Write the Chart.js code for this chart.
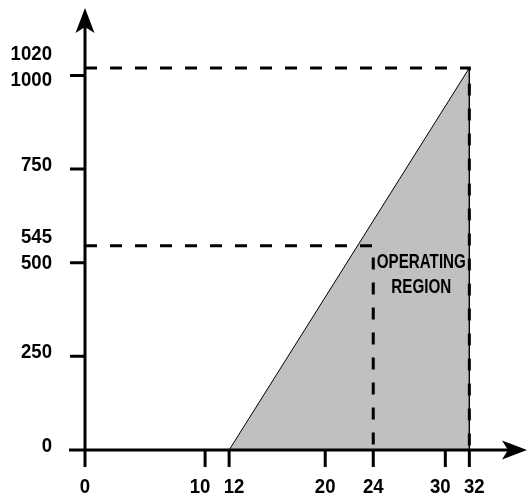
<!DOCTYPE html>
<html>
<head>
<meta charset="utf-8">
<title>Operating region</title>
<script src="https://cdn.jsdelivr.net/npm/chart.js@4.4.0/dist/chart.umd.min.js"></script>
<style>
  html, body { margin: 0; padding: 0; background: #fff; }
  canvas { display: block; }
</style>
</head>
<body>
<canvas id="myChart" width="529" height="497"></canvas>
<script>
// values
const xTicks = [0, 10, 12, 20, 24, 30, 32];
const yTicks = [0, 250, 500, 545, 750, 1000, 1020];

const regionX = [12, 32, 32];      // shaded operating region
const regionY = [0, 1020, 0];
const limitX = [0, 32, 32];        // dashed 1020 limit
const limitY = [1020, 1020, 0];
const ratedX = [0, 24, 24];        // dashed 545 point
const ratedY = [545, 545, 0];

const regionText = ['OPERATING', 'REGION'];

const xMax = 36.8;
const yMax = 1180;

const FONT = 'bold 20px "Liberation Sans", Arial, sans-serif';

function toPoints(xs, ys) {
  return xs.map((v, i) => ({ x: v, y: ys[i] }));
}

// condensed look: squeeze the text horizontally
function drawText(ctx, text, px, py, align, sx) {
  ctx.save();
  ctx.translate(px, py);
  ctx.scale(sx, 1);
  ctx.textAlign = align;
  ctx.fillText(text, 0, 0);
  ctx.restore();
}

// push neighbouring labels apart when they sit too close
function spread(pos, minGap) {
  const out = pos.slice();
  for (let i = 1; i < out.length; i++) {
    const d = out[i] - out[i - 1];
    if (d < minGap) {
      const s = (minGap - d) / 2;
      out[i - 1] -= s;
      out[i] += s;
    }
  }
  return out;
}

function arrowHead(ctx, tx, ty, dx, dy) {
  const len = 25, half = 9.5, notch = 6;
  const nx = -dy, ny = dx;
  ctx.beginPath();
  ctx.moveTo(tx, ty);
  ctx.lineTo(tx - dx * len + nx * half, ty - dy * len + ny * half);
  ctx.lineTo(tx - dx * (len - notch), ty - dy * (len - notch));
  ctx.lineTo(tx - dx * len - nx * half, ty - dy * len - ny * half);
  ctx.closePath();
  ctx.fill();
}

// axes, ticks and labels drawn through the chart's scales
const axesPlugin = {
  id: 'axes',
  afterDatasetsDraw(chart, args, opts) {
    const { ctx, scales: { x, y } } = chart;
    const x0 = x.getPixelForValue(0);
    const y0 = y.getPixelForValue(0);
    const right = x.getPixelForValue(xMax);
    const top = y.getPixelForValue(yMax);
    const dashedLevels = [limitY[0], ratedY[0]];

    ctx.save();
    ctx.strokeStyle = '#000';
    ctx.fillStyle = '#000';
    ctx.lineWidth = 3;
    ctx.setLineDash([]);

    // axis lines (they run past the origin as the 0 ticks)
    ctx.beginPath();
    ctx.moveTo(x0 - 16, y0);
    ctx.lineTo(right - 12, y0);
    ctx.moveTo(x0, y0 + 17);
    ctx.lineTo(x0, top + 12);
    ctx.stroke();
    arrowHead(ctx, right, y0, 1, 0);
    arrowHead(ctx, x0, top, 0, -1);

    // tick marks
    ctx.beginPath();
    xTicks.forEach(v => {
      if (v === 0) return;
      const px = x.getPixelForValue(v);
      ctx.moveTo(px, y0);
      ctx.lineTo(px, y0 + 17);
    });
    yTicks.forEach(v => {
      if (v === 0 || dashedLevels.includes(v)) return;
      const py = y.getPixelForValue(v);
      ctx.moveTo(x0 - 15, py);
      ctx.lineTo(x0, py);
    });
    ctx.stroke();

    // tick labels
    ctx.font = FONT;
    ctx.textBaseline = 'middle';
    const xs = spread(xTicks.map(v => x.getPixelForValue(v)), 34);
    xTicks.forEach((v, i) => {
      drawText(ctx, String(v), xs[i], y0 + 37, 'center', 0.93);
    });

    const yDesc = yTicks.slice().sort((a, b) => b - a);
    const ys = spread(yDesc.map(v => y.getPixelForValue(v) - 4), 26);
    yDesc.forEach((v, i) => {
      drawText(ctx, String(v), x0 - 33, ys[i], 'right', 0.93);
    });

    // region label, between the two dashed verticals
    const cx = (x.getPixelForValue(ratedX[1]) + x.getPixelForValue(limitX[1])) / 2;
    const cy = y.getPixelForValue(opts.atY);
    regionText.forEach((t, i) => {
      drawText(ctx, t, cx, cy + (i - (regionText.length - 1) / 2) * 25, 'center', 0.76);
    });
    ctx.restore();
  }
};

const ctx = document.getElementById('myChart').getContext('2d');
window.myChart = new Chart(ctx, {
  type: 'line',
  data: {
    datasets: [{
      label: '1020 limit',
      data: toPoints(limitX, limitY),
      borderColor: '#000',
      borderWidth: 3,
      borderDash: [12, 13],
      pointRadius: 0,
      fill: false,
      tension: 0
    }, {
      label: '545 point',
      data: toPoints(ratedX, ratedY),
      borderColor: '#000',
      borderWidth: 3,
      borderDash: [12, 13],
      pointRadius: 0,
      fill: false,
      tension: 0
    }, {
      label: 'Operating region',
      data: toPoints(regionX, regionY),
      borderColor: '#000',
      borderWidth: 1,
      backgroundColor: '#c0c0c0',
      pointRadius: 0,
      fill: 'origin',
      tension: 0
    }]
  },
  options: {
    responsive: false,
    animation: false,
    events: [],
    layout: {
      padding: { left: 85, right: 2, top: 8, bottom: 47 }
    },
    scales: {
      x: { type: 'linear', min: 0, max: xMax, display: false },
      y: { type: 'linear', min: 0, max: yMax, display: false }
    },
    plugins: {
      legend: { display: false },
      tooltip: { enabled: false },
      title: { display: false },
      axes: { atY: 468 }
    }
  },
  plugins: [axesPlugin]
});
</script>
</body>
</html>
